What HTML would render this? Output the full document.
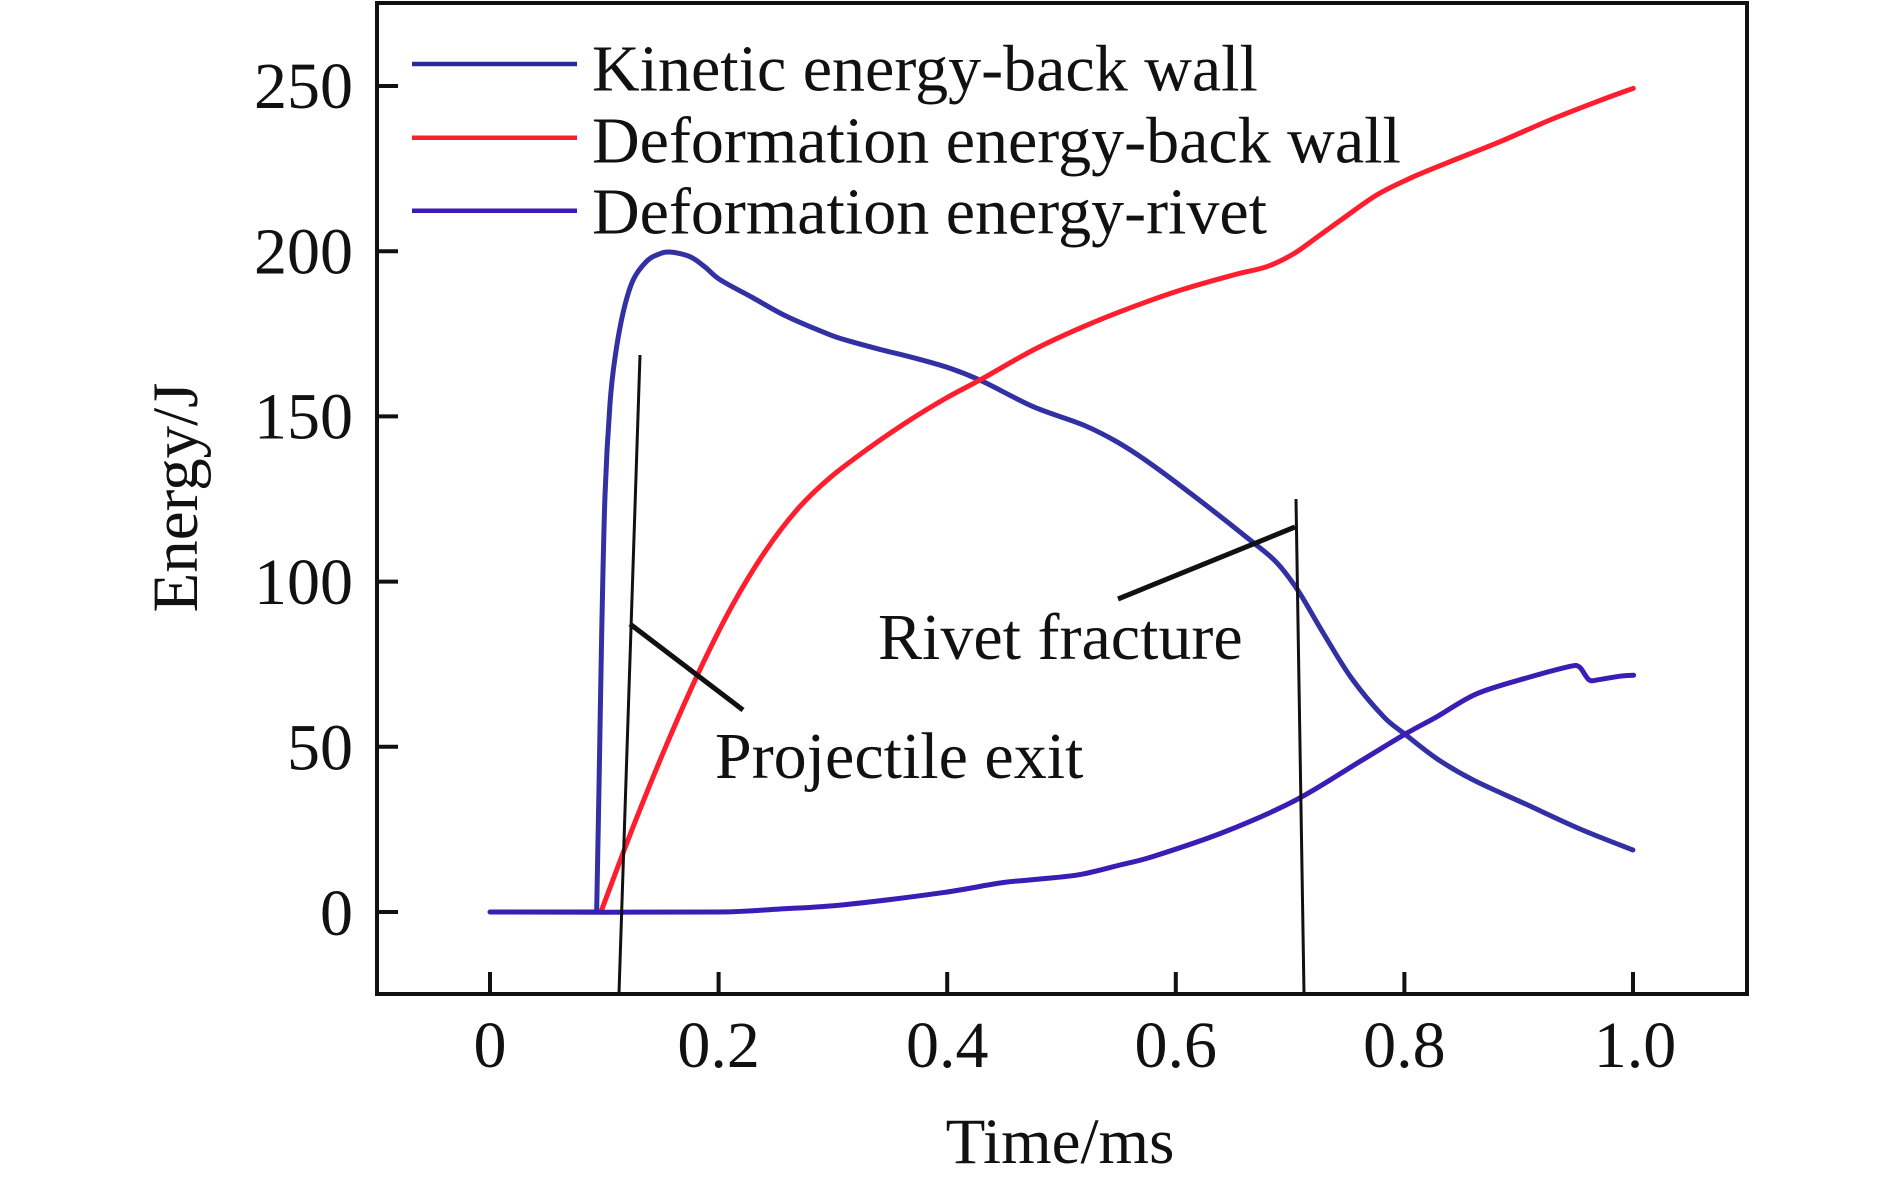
<!DOCTYPE html>
<html>
<head>
<meta charset="utf-8">
<style>
  html, body { margin: 0; padding: 0; background: #ffffff; }
  svg { display: block; }
  text { font-family: "Liberation Serif", "Times New Roman", serif; fill: #111; }
</style>
</head>
<body>
<svg width="1890" height="1183" viewBox="0 0 1890 1183" xmlns="http://www.w3.org/2000/svg">
  <rect x="0" y="0" width="1890" height="1183" fill="#ffffff"/>

  <!-- flat baselines -->
  <line x1="490" y1="912" x2="601" y2="912" stroke="#ff1e2e" stroke-width="5"/>
  <line x1="490" y1="912" x2="597" y2="912" stroke="#3230a2" stroke-width="5"/>

  <!-- Kinetic energy - back wall -->
  <polyline id="kin" fill="none" stroke="#3230a2" stroke-width="5" stroke-linejoin="round" stroke-linecap="round"
    points="596.3,912 596.7,908.5 599.3,770.8 601.7,633 605,495.4 610,403.6 615,357.7 623.3,311.8 633.3,279.7 646.7,261.3 658,254.5 670,252 690,256.7 705,267 720,279.7 753.3,298 786.7,316.4 830,334.8 846.7,340.3 880,349.4 913.3,357.7 950,368.3 983.3,381.7 1033.3,406.7 1083.3,425 1116.7,441.7 1150,463.3 1197.9,499 1250,540 1276.4,562.3 1297.9,590.4 1322.9,632.5 1351.4,678 1383.6,716.7 1405,734.2 1437,758.8 1472.9,779.8 1526.4,804.4 1580,829 1632.9,850"/>

  <!-- Deformation energy - back wall -->
  <polyline id="red" fill="none" stroke="#ff1e2e" stroke-width="5" stroke-linejoin="round" stroke-linecap="round"
    points="600.9,912 634,824.6 667,743.7 700,669.5 732.5,605.1 765,551.7 797.5,509.2 830,477.7 868,448.7 906,422.6 944.5,399 983,378.3 1033.3,350 1083.3,326.7 1133.3,306.7 1183.3,289.3 1233.3,275 1266.7,266.7 1293.3,254 1316.7,237.5 1343.3,218.3 1376.7,195 1410,178.3 1450,161.7 1500,141.7 1550,120 1596.7,101.7 1633.3,88.3"/>

  <!-- Deformation energy - rivet -->
  <polyline id="riv" fill="none" stroke="#3a1db5" stroke-width="5" stroke-linejoin="round" stroke-linecap="round"
    points="490,912 718.6,912 780,909 844.3,904.7 941.5,892.8 1000.9,882.9 1040,879 1080,874.6 1122,864.5 1151.4,857 1222.9,832.5 1294.3,800.9 1358.6,762.3 1405,734.2 1437,716.7 1476.4,693.9 1526.4,678 1572.9,665.8 1580,667.5 1589,679.8 1597.9,679.8 1619.3,676.3 1633.6,675.3"/>

  <!-- Annotation lines -->
  <line x1="640" y1="355" x2="619" y2="993" stroke="#111" stroke-width="3"/>
  <line x1="630" y1="624" x2="743" y2="710" stroke="#111" stroke-width="5"/>
  <line x1="1296" y1="499" x2="1304" y2="993" stroke="#111" stroke-width="3"/>
  <line x1="1118" y1="599" x2="1295" y2="527" stroke="#111" stroke-width="5"/>

  <!-- Axes frame -->
  <rect x="377" y="3" width="1370" height="991" fill="none" stroke="#111" stroke-width="4"/>

  <!-- Y ticks -->
  <g stroke="#111" stroke-width="4">
    <line x1="377" y1="912" x2="398" y2="912"/>
    <line x1="377" y1="746.8" x2="398" y2="746.8"/>
    <line x1="377" y1="581.6" x2="398" y2="581.6"/>
    <line x1="377" y1="416.4" x2="398" y2="416.4"/>
    <line x1="377" y1="251.2" x2="398" y2="251.2"/>
    <line x1="377" y1="86" x2="398" y2="86"/>
  </g>
  <!-- X ticks -->
  <g stroke="#111" stroke-width="4">
    <line x1="490" y1="994" x2="490" y2="972"/>
    <line x1="718.6" y1="994" x2="718.6" y2="972"/>
    <line x1="947.2" y1="994" x2="947.2" y2="972"/>
    <line x1="1175.8" y1="994" x2="1175.8" y2="972"/>
    <line x1="1404.4" y1="994" x2="1404.4" y2="972"/>
    <line x1="1633" y1="994" x2="1633" y2="972"/>
  </g>

  <!-- Y tick labels -->
  <g font-size="66" text-anchor="end">
    <text x="353" y="935">0</text>
    <text x="353" y="769.5">50</text>
    <text x="353" y="604">100</text>
    <text x="353" y="438.5">150</text>
    <text x="353" y="273.5">200</text>
    <text x="353" y="108">250</text>
  </g>

  <!-- X tick labels -->
  <g font-size="66" text-anchor="middle">
    <text x="490" y="1067">0</text>
    <text x="718.6" y="1067">0.2</text>
    <text x="947.2" y="1067">0.4</text>
    <text x="1175.8" y="1067">0.6</text>
    <text x="1404.4" y="1067">0.8</text>
    <text x="1635" y="1067">1.0</text>
  </g>

  <!-- Axis titles -->
  <text x="1060" y="1163" font-size="65" text-anchor="middle">Time/ms</text>
  <text transform="translate(197,497.5) rotate(-90)" font-size="65" text-anchor="middle">Energy/J</text>

  <!-- Legend -->
  <line x1="412" y1="64" x2="577" y2="64" stroke="#2a2a9a" stroke-width="4.5"/>
  <line x1="412" y1="137.7" x2="577" y2="137.7" stroke="#ff1e2e" stroke-width="4.5"/>
  <line x1="412" y1="210.7" x2="577" y2="210.7" stroke="#3a1ab8" stroke-width="4.5"/>
  <g font-size="66">
    <text x="592" y="90.7">Kinetic energy-back wall</text>
    <text x="592" y="162.7">Deformation energy-back wall</text>
    <text x="592" y="233.3">Deformation energy-rivet</text>
  </g>

  <!-- Annotations text -->
  <text x="878" y="659" font-size="66">Rivet fracture</text>
  <text x="715" y="778" font-size="66">Projectile exit</text>
</svg>
<script>
(function(){
  function smooth(pts){
    var d = 'M' + pts[0][0] + ',' + pts[0][1];
    for (var i = 0; i < pts.length - 1; i++) {
      var p0 = pts[i-1] || pts[i], p1 = pts[i], p2 = pts[i+1], p3 = pts[i+2] || pts[i+1];
      var L = Math.hypot(p2[0]-p1[0], p2[1]-p1[1]);
      var t1 = [(p2[0]-p0[0])/6, (p2[1]-p0[1])/6];
      var t2 = [(p3[0]-p1[0])/6, (p3[1]-p1[1])/6];
      var m1 = Math.hypot(t1[0], t1[1]), m2 = Math.hypot(t2[0], t2[1]);
      var lim = 0.45 * L;
      if (m1 > lim && m1 > 0) { t1 = [t1[0]*lim/m1, t1[1]*lim/m1]; }
      if (m2 > lim && m2 > 0) { t2 = [t2[0]*lim/m2, t2[1]*lim/m2]; }
      var c1 = [p1[0]+t1[0], p1[1]+t1[1]];
      var c2 = [p2[0]-t2[0], p2[1]-t2[1]];
      d += ' C' + c1[0].toFixed(2) + ',' + c1[1].toFixed(2) + ' ' + c2[0].toFixed(2) + ',' + c2[1].toFixed(2) + ' ' + p2[0] + ',' + p2[1];
    }
    return d;
  }
  var ns = 'http://www.w3.org/2000/svg';
  ['kin','red','riv'].forEach(function(id){
    var pl = document.getElementById(id);
    if (!pl) return;
    var pts = pl.getAttribute('points').trim().split(/\s+/).map(function(s){
      var a = s.split(','); return [parseFloat(a[0]), parseFloat(a[1])];
    });
    var path = document.createElementNS(ns, 'path');
    path.setAttribute('d', smooth(pts));
    ['fill','stroke','stroke-width','stroke-linejoin','stroke-linecap'].forEach(function(a){
      path.setAttribute(a, pl.getAttribute(a));
    });
    pl.parentNode.replaceChild(path, pl);
  });
})();
</script>
</body>
</html>
